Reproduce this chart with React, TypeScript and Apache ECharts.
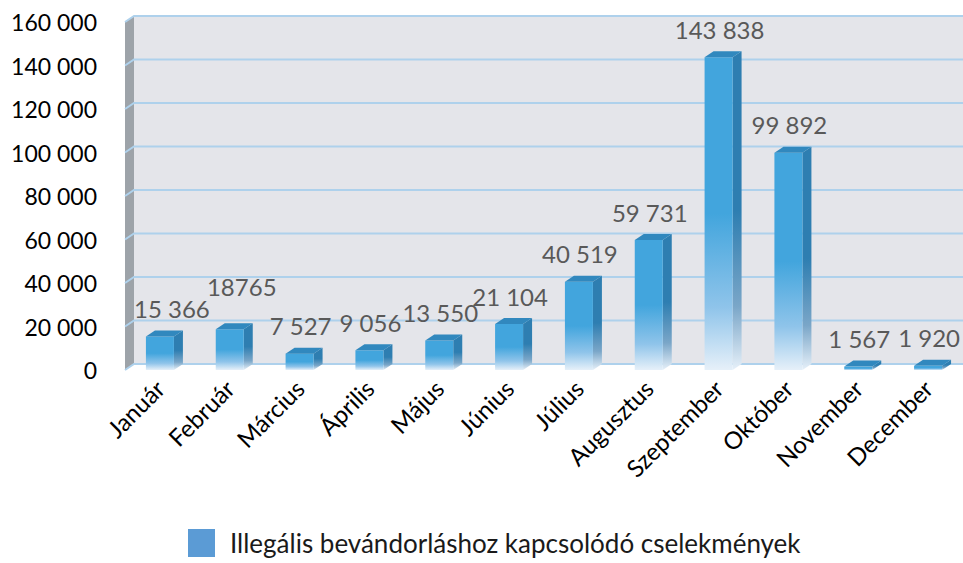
import React, { useEffect, useRef } from "react";
import * as echarts from "echarts";

const months = [
  "Január", "Február", "Március", "Április", "Május", "Június",
  "Július", "Augusztus", "Szeptember", "Október", "November", "December",
];
const values = [15366, 18765, 7527, 9056, 13550, 21104, 40519, 59731, 143838, 99892, 1567, 1920];
const valueLabels = [
  "15 366", "18765", "7 527", "9 056", "13 550", "21 104",
  "40 519", "59 731", "143 838", "99 892", "1 567", "1 920",
];
const yTicks = [0, 20000, 40000, 60000, 80000, 100000, 120000, 140000, 160000];
const seriesName = "Illegális bevándorláshoz kapcsolódó cselekmények";

const FONT = "Lato, 'Noto Sans', sans-serif";
const DX = 9;
const DY = -6;

export default function App() {
  const ref = useRef<HTMLDivElement>(null);
  useEffect(() => {
    if (!ref.current) return;
    const chart = echarts.init(ref.current, undefined, { renderer: "svg" });

    const wallsItem = (params: any, api: any) => {
      const cs = params.coordSys;
      const v = api.value(1);
      const yy = api.coord([0, v])[1];
      const x0 = cs.x;
      const children: any[] = [];
      if (params.dataIndex === 0) {
        children.push({
          type: "rect",
          shape: { x: x0 + DX, y: cs.y + DY, width: cs.width + 20, height: cs.height },
          style: { fill: "#e4e5ea" },
        });
        children.push({
          type: "polygon",
          shape: {
            points: [
              [x0, cs.y],
              [x0 + DX, cs.y + DY],
              [x0 + DX, cs.y + cs.height + DY],
              [x0, cs.y + cs.height],
            ],
          },
          style: { fill: "#9da3a9" },
        });
      }
      children.push({
        type: "polyline",
        shape: {
          points: [
            [x0, yy],
            [x0 + DX, yy + DY],
            [x0 + DX + cs.width + 20, yy + DY],
          ],
        },
        style: { stroke: "#aed1ec", lineWidth: 2, fill: "none" },
      });
      return { type: "group", children };
    };

    const barItem = (params: any, api: any) => {
      const idx = api.value(0);
      const v = api.value(1);
      const top = api.coord([idx, v]);
      const base = api.coord([idx, 0]);
      const bw = 28;
      const x = top[0] - bw / 2;
      const yt = top[1];
      const yb = base[1];
      const h = Math.max(yb - yt, 0.5);
      const frontGrad = new echarts.graphic.LinearGradient(0, 0, 0, 1, [
        { offset: 0, color: "#42a5dd" },
        { offset: 0.5, color: "#42a5dd" },
        { offset: 0.8, color: "#8fc4ea" },
        { offset: 1, color: "#e6f0f9" },
      ]);
      const sideGrad = new echarts.graphic.LinearGradient(0, 0, 0, 1, [
        { offset: 0, color: "#2e7eb1" },
        { offset: 0.5, color: "#2e7eb1" },
        { offset: 0.8, color: "#7aa6c8" },
        { offset: 1, color: "#e6f0f9" },
      ]);
      const i = params.dataIndex;
      const nudgeX = i <= 1 ? 11 : 0;
      const lift = i === 1 ? 15 : 0;
      return {
        type: "group",
        children: [
          {
            type: "polygon",
            shape: {
              points: [
                [x + bw, yt],
                [x + bw + DX, yt + DY],
                [x + bw + DX, yb + DY],
                [x + bw, yb],
              ],
            },
            style: { fill: sideGrad },
          },
          {
            type: "rect",
            shape: { x, y: yt, width: bw, height: h },
            style: { fill: frontGrad },
          },
          {
            type: "polygon",
            shape: {
              points: [
                [x, yt],
                [x + DX, yt + DY],
                [x + bw + DX, yt + DY],
                [x + bw, yt],
              ],
            },
            style: { fill: "#3188be" },
          },
          {
            type: "text",
            x: top[0] + 1 + nudgeX,
            y: yt - 28 - lift,
            style: {
              text: valueLabels[i],
              fill: "#595959",
              fontSize: 24,
              fontFamily: FONT,
              align: "center",
              verticalAlign: "middle",
            },
          },
        ],
      };
    };

    chart.setOption({
      animation: false,
      backgroundColor: "#ffffff",
      grid: { left: 125, top: 22, width: 840, height: 348, containLabel: false },
      xAxis: {
        type: "category",
        data: months,
        axisLine: { show: false },
        axisTick: { show: false },
        axisLabel: {
          rotate: 45,
          margin: 14,
          fontSize: 24,
          fontFamily: FONT,
          color: "#000000",
          interval: 0,
        },
      },
      yAxis: {
        type: "value",
        min: 0,
        max: 160000,
        interval: 20000,
        axisLine: { show: false },
        axisTick: { show: false },
        splitLine: { show: false },
        axisLabel: {
          margin: 28,
          fontSize: 23,
          fontFamily: FONT,
          color: "#000000",
          formatter: (v: number) => String(v).replace(/\B(?=(\d{3})+(?!\d))/g, " "),
        },
      },
      legend: {
        data: [seriesName],
        left: 183,
        top: 524,
        icon: "rect",
        itemWidth: 27,
        itemHeight: 28,
        textStyle: {
          fontSize: 26,
          fontFamily: FONT,
          color: "#1a1a1a",
          padding: [0, 0, 0, 10],
        },
      },
      series: [
        {
          type: "custom",
          name: "walls",
          z: 1,
          silent: true,
          data: yTicks.map((v) => [0, v]),
          renderItem: wallsItem,
        },
        {
          type: "custom",
          name: seriesName,
          z: 2,
          itemStyle: { color: "#5b9bd5" },
          data: values.map((v, i) => [i, v]),
          renderItem: barItem,
        },
      ],
    });
    return () => chart.dispose();
  }, []);
  return (
    <div
      ref={ref}
      style={{ position: "absolute", left: 0, top: 0, width: 963, height: 563 }}
    />
  );
}
